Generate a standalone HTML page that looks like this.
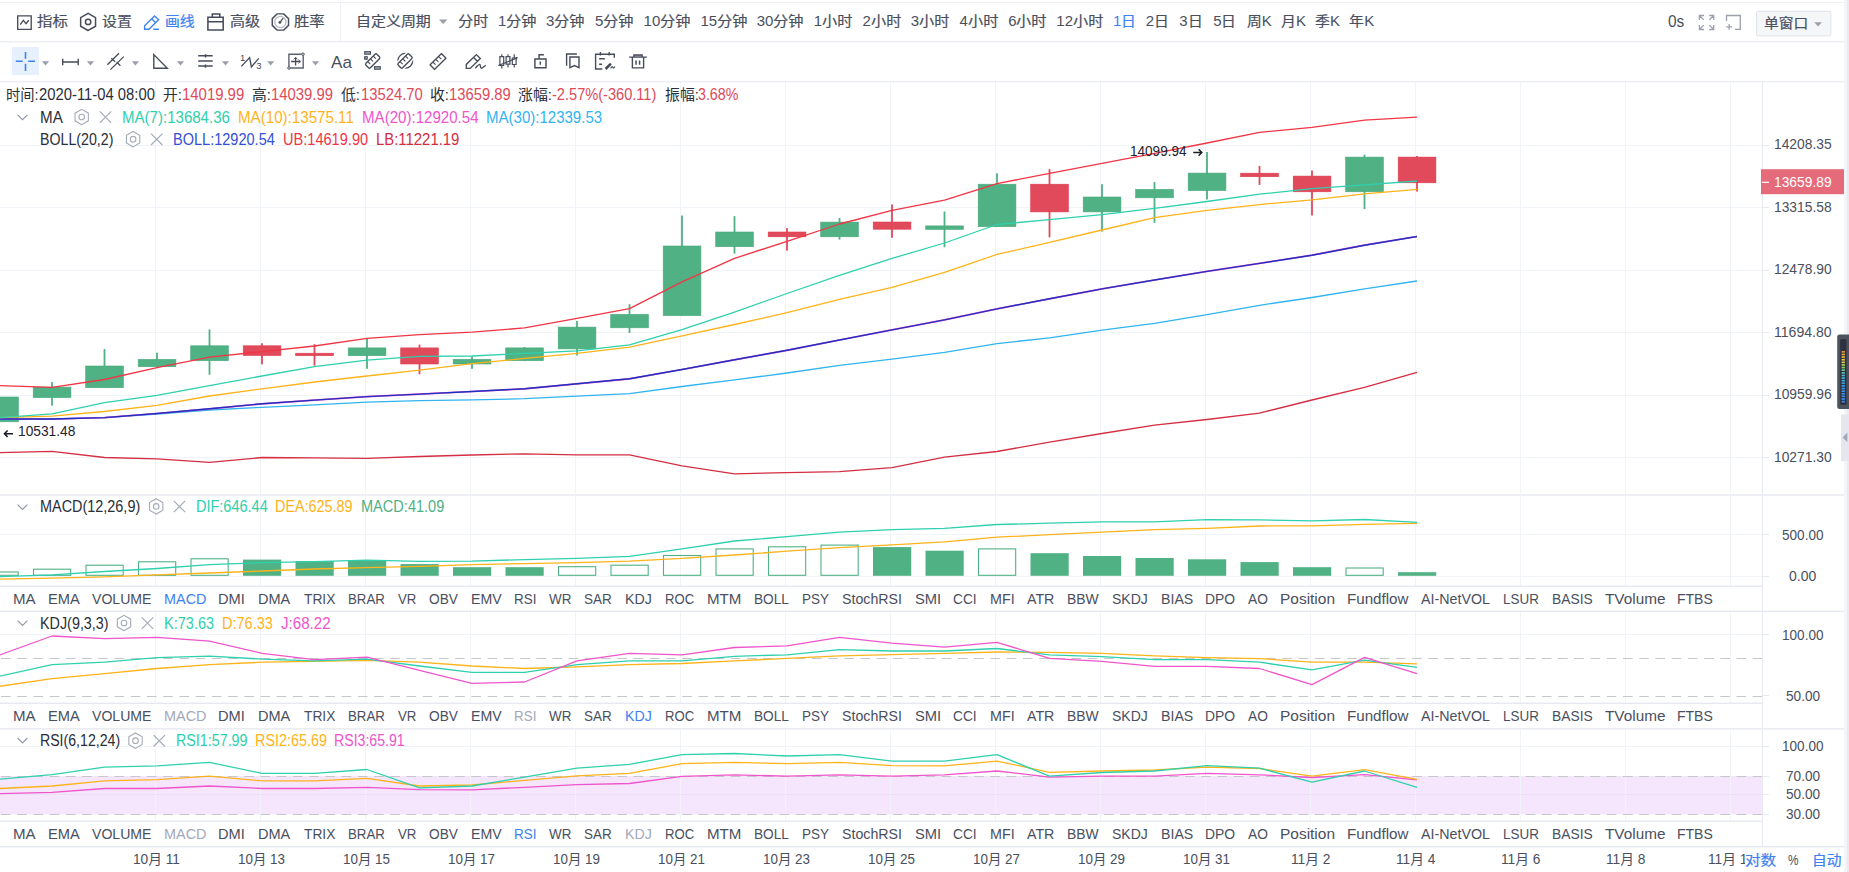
<!DOCTYPE html>
<html lang="zh-CN"><head><meta charset="utf-8"><title>K线图</title>
<style>
html,body{margin:0;padding:0;background:#fff;}
body{width:1849px;height:872px;position:relative;overflow:hidden;font-family:"Liberation Sans","Noto Sans CJK SC",sans-serif;}
.t{position:absolute;white-space:pre;transform-origin:0 50%;font-family:"Liberation Sans","Noto Sans CJK SC",sans-serif;}
</style></head><body>
<svg width="1849" height="872" viewBox="0 0 1849 872" style="position:absolute;left:0;top:0"><rect x="0" y="776" width="1762" height="38.5" fill="#f5e6fe"/>
<rect x="155" y="82" width="1" height="412" fill="#f0f3f8"/>
<rect x="260" y="82" width="1" height="412" fill="#f0f3f8"/>
<rect x="365" y="82" width="1" height="412" fill="#f0f3f8"/>
<rect x="470" y="82" width="1" height="412" fill="#f0f3f8"/>
<rect x="575" y="82" width="1" height="412" fill="#f0f3f8"/>
<rect x="680" y="82" width="1" height="412" fill="#f0f3f8"/>
<rect x="785" y="82" width="1" height="412" fill="#f0f3f8"/>
<rect x="890" y="82" width="1" height="412" fill="#f0f3f8"/>
<rect x="995" y="82" width="1" height="412" fill="#f0f3f8"/>
<rect x="1100" y="82" width="1" height="412" fill="#f0f3f8"/>
<rect x="1205" y="82" width="1" height="412" fill="#f0f3f8"/>
<rect x="1310" y="82" width="1" height="412" fill="#f0f3f8"/>
<rect x="1415" y="82" width="1" height="412" fill="#f0f3f8"/>
<rect x="1520" y="82" width="1" height="412" fill="#f0f3f8"/>
<rect x="1625" y="82" width="1" height="412" fill="#f0f3f8"/>
<rect x="1730" y="82" width="1" height="412" fill="#f0f3f8"/>
<rect x="155" y="496" width="1" height="90" fill="#f0f3f8"/>
<rect x="260" y="496" width="1" height="90" fill="#f0f3f8"/>
<rect x="365" y="496" width="1" height="90" fill="#f0f3f8"/>
<rect x="470" y="496" width="1" height="90" fill="#f0f3f8"/>
<rect x="575" y="496" width="1" height="90" fill="#f0f3f8"/>
<rect x="680" y="496" width="1" height="90" fill="#f0f3f8"/>
<rect x="785" y="496" width="1" height="90" fill="#f0f3f8"/>
<rect x="890" y="496" width="1" height="90" fill="#f0f3f8"/>
<rect x="995" y="496" width="1" height="90" fill="#f0f3f8"/>
<rect x="1100" y="496" width="1" height="90" fill="#f0f3f8"/>
<rect x="1205" y="496" width="1" height="90" fill="#f0f3f8"/>
<rect x="1310" y="496" width="1" height="90" fill="#f0f3f8"/>
<rect x="1415" y="496" width="1" height="90" fill="#f0f3f8"/>
<rect x="1520" y="496" width="1" height="90" fill="#f0f3f8"/>
<rect x="1625" y="496" width="1" height="90" fill="#f0f3f8"/>
<rect x="1730" y="496" width="1" height="90" fill="#f0f3f8"/>
<rect x="155" y="612" width="1" height="91" fill="#f0f3f8"/>
<rect x="260" y="612" width="1" height="91" fill="#f0f3f8"/>
<rect x="365" y="612" width="1" height="91" fill="#f0f3f8"/>
<rect x="470" y="612" width="1" height="91" fill="#f0f3f8"/>
<rect x="575" y="612" width="1" height="91" fill="#f0f3f8"/>
<rect x="680" y="612" width="1" height="91" fill="#f0f3f8"/>
<rect x="785" y="612" width="1" height="91" fill="#f0f3f8"/>
<rect x="890" y="612" width="1" height="91" fill="#f0f3f8"/>
<rect x="995" y="612" width="1" height="91" fill="#f0f3f8"/>
<rect x="1100" y="612" width="1" height="91" fill="#f0f3f8"/>
<rect x="1205" y="612" width="1" height="91" fill="#f0f3f8"/>
<rect x="1310" y="612" width="1" height="91" fill="#f0f3f8"/>
<rect x="1415" y="612" width="1" height="91" fill="#f0f3f8"/>
<rect x="1520" y="612" width="1" height="91" fill="#f0f3f8"/>
<rect x="1625" y="612" width="1" height="91" fill="#f0f3f8"/>
<rect x="1730" y="612" width="1" height="91" fill="#f0f3f8"/>
<rect x="155" y="729" width="1" height="92" fill="#f0f3f8"/>
<rect x="260" y="729" width="1" height="92" fill="#f0f3f8"/>
<rect x="365" y="729" width="1" height="92" fill="#f0f3f8"/>
<rect x="470" y="729" width="1" height="92" fill="#f0f3f8"/>
<rect x="575" y="729" width="1" height="92" fill="#f0f3f8"/>
<rect x="680" y="729" width="1" height="92" fill="#f0f3f8"/>
<rect x="785" y="729" width="1" height="92" fill="#f0f3f8"/>
<rect x="890" y="729" width="1" height="92" fill="#f0f3f8"/>
<rect x="995" y="729" width="1" height="92" fill="#f0f3f8"/>
<rect x="1100" y="729" width="1" height="92" fill="#f0f3f8"/>
<rect x="1205" y="729" width="1" height="92" fill="#f0f3f8"/>
<rect x="1310" y="729" width="1" height="92" fill="#f0f3f8"/>
<rect x="1415" y="729" width="1" height="92" fill="#f0f3f8"/>
<rect x="1520" y="729" width="1" height="92" fill="#f0f3f8"/>
<rect x="1625" y="729" width="1" height="92" fill="#f0f3f8"/>
<rect x="1730" y="729" width="1" height="92" fill="#f0f3f8"/>
<rect x="0" y="145" width="1762" height="1" fill="#f0f3f8"/>
<rect x="0" y="207" width="1762" height="1" fill="#f0f3f8"/>
<rect x="0" y="270" width="1762" height="1" fill="#f0f3f8"/>
<rect x="0" y="332" width="1762" height="1" fill="#f0f3f8"/>
<rect x="0" y="395" width="1762" height="1" fill="#f0f3f8"/>
<rect x="0" y="457" width="1762" height="1" fill="#f0f3f8"/>
<rect x="0" y="534" width="1762" height="1" fill="#f0f3f8"/>
<rect x="0" y="576" width="1762" height="1" fill="#f0f3f8"/>
<rect x="0" y="634" width="1762" height="1" fill="#f0f3f8"/>
<rect x="0" y="746" width="1762" height="1" fill="#f0f3f8"/>
<rect x="0" y="794" width="1762" height="1" fill="#ebe0f6"/>
<rect x="1762" y="145" width="7" height="1" fill="#e6e9ef"/>
<rect x="1762" y="207" width="7" height="1" fill="#e6e9ef"/>
<rect x="1762" y="270" width="7" height="1" fill="#e6e9ef"/>
<rect x="1762" y="332" width="7" height="1" fill="#e6e9ef"/>
<rect x="1762" y="395" width="7" height="1" fill="#e6e9ef"/>
<rect x="1762" y="457" width="7" height="1" fill="#e6e9ef"/>
<rect x="1762" y="534" width="7" height="1" fill="#e6e9ef"/>
<rect x="1762" y="576" width="7" height="1" fill="#e6e9ef"/>
<rect x="1762" y="634" width="7" height="1" fill="#e6e9ef"/>
<rect x="1762" y="695" width="7" height="1" fill="#e6e9ef"/>
<rect x="1762" y="746" width="7" height="1" fill="#e6e9ef"/>
<rect x="1762" y="776" width="7" height="1" fill="#e6e9ef"/>
<rect x="1762" y="794" width="7" height="1" fill="#e6e9ef"/>
<rect x="1762" y="814" width="7" height="1" fill="#e6e9ef"/>
<rect x="0" y="2" width="1849" height="1" fill="#f0f1f5"/>
<rect x="0" y="41" width="1844" height="1.4" fill="#eceef3"/>
<rect x="0" y="81" width="1844" height="1.4" fill="#eceef3"/>
<rect x="0" y="494.3" width="1844" height="1.4" fill="#e6e9ef"/>
<rect x="0" y="585.6" width="1762" height="1.4" fill="#e6e9ef"/>
<rect x="0" y="610.6" width="1844" height="1.4" fill="#e6e9ef"/>
<rect x="0" y="702.6" width="1762" height="1.4" fill="#e6e9ef"/>
<rect x="0" y="728.2" width="1844" height="1.4" fill="#e6e9ef"/>
<rect x="0" y="820.6" width="1762" height="1.4" fill="#e6e9ef"/>
<rect x="0" y="846" width="1844" height="1.4" fill="#e6e9ef"/>
<rect x="1762" y="82" width="1" height="764" fill="#e6e9ef"/>
<rect x="340" y="3" width="1" height="38" fill="#eceef3"/>
<rect x="1844" y="0" width="2.4" height="872" fill="#f4f5f8"/><rect x="1846.4" y="0" width="2.6" height="872" fill="#e9ebf0"/>
<line x1="1" y1="658.5" x2="1762" y2="658.5" stroke="#c6c7ca" stroke-width="1.1" stroke-dasharray="9.6 6.62"/>
<line x1="1" y1="696.5" x2="1762" y2="696.5" stroke="#c6c7ca" stroke-width="1.1" stroke-dasharray="9.6 6.62"/>
<line x1="1" y1="776.5" x2="1762" y2="776.5" stroke="#c6c7ca" stroke-width="1.1" stroke-dasharray="9.6 6.62"/>
<line x1="1" y1="814.5" x2="1762" y2="814.5" stroke="#c6c7ca" stroke-width="1.1" stroke-dasharray="9.6 6.62"/>
<rect x="-19.3" y="397.0" width="37.7" height="24.8" fill="#50b184" stroke="#48a97b" stroke-width="0.6"/>
<rect x="51.1" y="382.1" width="1.8" height="23.6" fill="#50b184"/>
<rect x="33.2" y="387.1" width="37.7" height="10.5" fill="#50b184" stroke="#48a97b" stroke-width="0.6"/>
<rect x="103.6" y="349.1" width="1.8" height="38.6" fill="#50b184"/>
<rect x="85.7" y="366.0" width="37.7" height="21.7" fill="#50b184" stroke="#48a97b" stroke-width="0.6"/>
<rect x="156.1" y="352.6" width="1.8" height="14.1" fill="#50b184"/>
<rect x="138.2" y="359.4" width="37.7" height="7.3" fill="#50b184" stroke="#48a97b" stroke-width="0.6"/>
<rect x="208.6" y="329.5" width="1.8" height="45.2" fill="#50b184"/>
<rect x="190.7" y="345.8" width="37.7" height="14.9" fill="#50b184" stroke="#48a97b" stroke-width="0.6"/>
<rect x="261.1" y="343.3" width="1.8" height="21.1" fill="#e04a5a"/>
<rect x="243.2" y="345.8" width="37.7" height="9.7" fill="#e04a5a" stroke="#dc3d4e" stroke-width="0.6"/>
<rect x="313.6" y="344.2" width="1.8" height="21.5" fill="#e04a5a"/>
<rect x="295.7" y="353.2" width="37.7" height="2.5" fill="#e04a5a" stroke="#dc3d4e" stroke-width="0.6"/>
<rect x="366.1" y="338.8" width="1.8" height="30.0" fill="#50b184"/>
<rect x="348.2" y="347.9" width="37.7" height="7.8" fill="#50b184" stroke="#48a97b" stroke-width="0.6"/>
<rect x="418.6" y="344.6" width="1.8" height="29.7" fill="#e04a5a"/>
<rect x="400.7" y="347.9" width="37.7" height="16.1" fill="#e04a5a" stroke="#dc3d4e" stroke-width="0.6"/>
<rect x="471.1" y="356.4" width="1.8" height="12.4" fill="#50b184"/>
<rect x="453.2" y="359.3" width="37.7" height="4.7" fill="#50b184" stroke="#48a97b" stroke-width="0.6"/>
<rect x="523.6" y="347.1" width="1.8" height="14.0" fill="#50b184"/>
<rect x="505.7" y="347.9" width="37.7" height="12.8" fill="#50b184" stroke="#48a97b" stroke-width="0.6"/>
<rect x="576.1" y="320.9" width="1.8" height="34.6" fill="#50b184"/>
<rect x="558.2" y="327.1" width="37.7" height="21.8" fill="#50b184" stroke="#48a97b" stroke-width="0.6"/>
<rect x="628.6" y="304.2" width="1.8" height="28.8" fill="#50b184"/>
<rect x="610.7" y="314.4" width="37.7" height="13.4" fill="#50b184" stroke="#48a97b" stroke-width="0.6"/>
<rect x="681.1" y="215.5" width="1.8" height="100.1" fill="#50b184"/>
<rect x="663.2" y="246.0" width="37.7" height="69.6" fill="#50b184" stroke="#48a97b" stroke-width="0.6"/>
<rect x="733.6" y="216.1" width="1.8" height="37.6" fill="#50b184"/>
<rect x="715.7" y="232.0" width="37.7" height="14.7" fill="#50b184" stroke="#48a97b" stroke-width="0.6"/>
<rect x="786.1" y="228.1" width="1.8" height="22.5" fill="#e04a5a"/>
<rect x="768.2" y="232.0" width="37.7" height="4.8" fill="#e04a5a" stroke="#dc3d4e" stroke-width="0.6"/>
<rect x="838.6" y="218.0" width="1.8" height="21.6" fill="#50b184"/>
<rect x="820.7" y="222.1" width="37.7" height="14.7" fill="#50b184" stroke="#48a97b" stroke-width="0.6"/>
<rect x="891.1" y="204.4" width="1.8" height="33.4" fill="#e04a5a"/>
<rect x="873.2" y="222.0" width="37.7" height="7.2" fill="#e04a5a" stroke="#dc3d4e" stroke-width="0.6"/>
<rect x="943.6" y="211.5" width="1.8" height="35.7" fill="#50b184"/>
<rect x="925.7" y="225.9" width="37.7" height="3.5" fill="#50b184" stroke="#48a97b" stroke-width="0.6"/>
<rect x="996.1" y="173.3" width="1.8" height="53.4" fill="#50b184"/>
<rect x="978.2" y="184.2" width="37.7" height="42.5" fill="#50b184" stroke="#48a97b" stroke-width="0.6"/>
<rect x="1048.6" y="169.1" width="1.8" height="68.2" fill="#e04a5a"/>
<rect x="1030.7" y="184.2" width="37.7" height="27.7" fill="#e04a5a" stroke="#dc3d4e" stroke-width="0.6"/>
<rect x="1101.1" y="184.2" width="1.8" height="47.3" fill="#50b184"/>
<rect x="1083.2" y="197.0" width="37.7" height="14.9" fill="#50b184" stroke="#48a97b" stroke-width="0.6"/>
<rect x="1153.6" y="182.1" width="1.8" height="40.7" fill="#50b184"/>
<rect x="1135.7" y="189.4" width="37.7" height="8.4" fill="#50b184" stroke="#48a97b" stroke-width="0.6"/>
<rect x="1206.1" y="152.0" width="1.8" height="47.5" fill="#50b184"/>
<rect x="1188.2" y="173.1" width="37.7" height="17.5" fill="#50b184" stroke="#48a97b" stroke-width="0.6"/>
<rect x="1258.6" y="166.0" width="1.8" height="18.9" fill="#e04a5a"/>
<rect x="1240.7" y="173.2" width="37.7" height="3.5" fill="#e04a5a" stroke="#dc3d4e" stroke-width="0.6"/>
<rect x="1311.1" y="170.5" width="1.8" height="45.0" fill="#e04a5a"/>
<rect x="1293.2" y="176.1" width="37.7" height="15.7" fill="#e04a5a" stroke="#dc3d4e" stroke-width="0.6"/>
<rect x="1363.6" y="154.6" width="1.8" height="54.5" fill="#50b184"/>
<rect x="1345.7" y="157.1" width="37.7" height="34.7" fill="#50b184" stroke="#48a97b" stroke-width="0.6"/>
<rect x="1416.1" y="156.0" width="1.8" height="35.5" fill="#e04a5a"/>
<rect x="1398.2" y="157.1" width="37.7" height="25.7" fill="#e04a5a" stroke="#dc3d4e" stroke-width="0.6"/>
<rect x="-19.0" y="572.0" width="37.2" height="3.3" fill="none" stroke="#50b184" stroke-width="1.1"/>
<rect x="33.5" y="569.2" width="37.2" height="6.1" fill="none" stroke="#50b184" stroke-width="1.1"/>
<rect x="86.0" y="565.2" width="37.2" height="10.1" fill="none" stroke="#50b184" stroke-width="1.1"/>
<rect x="138.5" y="561.8" width="37.2" height="13.5" fill="none" stroke="#50b184" stroke-width="1.1"/>
<rect x="191.0" y="558.8" width="37.2" height="16.5" fill="none" stroke="#50b184" stroke-width="1.1"/>
<rect x="243.0" y="559.6" width="38.2" height="16.2" fill="#50b184"/>
<rect x="295.5" y="561.1" width="38.2" height="14.7" fill="#50b184"/>
<rect x="348.0" y="560.1" width="38.2" height="15.7" fill="#50b184"/>
<rect x="400.5" y="564.1" width="38.2" height="11.7" fill="#50b184"/>
<rect x="453.0" y="567.2" width="38.2" height="8.6" fill="#50b184"/>
<rect x="505.5" y="567.2" width="38.2" height="8.6" fill="#50b184"/>
<rect x="558.5" y="566.7" width="37.2" height="8.6" fill="none" stroke="#50b184" stroke-width="1.1"/>
<rect x="611.0" y="565.2" width="37.2" height="10.1" fill="none" stroke="#50b184" stroke-width="1.1"/>
<rect x="663.5" y="555.5" width="37.2" height="19.8" fill="none" stroke="#50b184" stroke-width="1.1"/>
<rect x="716.0" y="548.9" width="37.2" height="26.4" fill="none" stroke="#50b184" stroke-width="1.1"/>
<rect x="768.5" y="546.8" width="37.2" height="28.5" fill="none" stroke="#50b184" stroke-width="1.1"/>
<rect x="821.0" y="545.1" width="37.2" height="30.2" fill="none" stroke="#50b184" stroke-width="1.1"/>
<rect x="873.0" y="547.1" width="38.2" height="28.7" fill="#50b184"/>
<rect x="925.5" y="550.7" width="38.2" height="25.1" fill="#50b184"/>
<rect x="978.5" y="548.9" width="37.2" height="26.4" fill="none" stroke="#50b184" stroke-width="1.1"/>
<rect x="1030.5" y="553.2" width="38.2" height="22.6" fill="#50b184"/>
<rect x="1083.0" y="556.0" width="38.2" height="19.8" fill="#50b184"/>
<rect x="1135.5" y="558.0" width="38.2" height="17.8" fill="#50b184"/>
<rect x="1188.0" y="559.3" width="38.2" height="16.5" fill="#50b184"/>
<rect x="1240.5" y="562.1" width="38.2" height="13.7" fill="#50b184"/>
<rect x="1293.0" y="567.2" width="38.2" height="8.6" fill="#50b184"/>
<rect x="1346.0" y="568.0" width="37.2" height="7.3" fill="none" stroke="#50b184" stroke-width="1.1"/>
<rect x="1398.0" y="572.2" width="38.2" height="3.6" fill="#50b184"/>
<polyline points="-0.5,452.7 52.0,451.3 104.5,457.5 157.0,458.9 209.5,462.4 262.0,457.5 314.5,457.9 367.0,458.3 419.5,456.5 472.0,455.0 524.5,453.8 577.0,454.8 629.5,454.9 682.0,465.9 734.5,473.8 787.0,472.7 839.5,471.7 892.0,467.6 944.5,457.2 997.0,451.5 1049.5,442.2 1102.0,433.5 1154.5,425.2 1207.0,419.5 1259.5,413.1 1312.0,400.0 1364.5,387.3 1417.0,372.4" fill="none" stroke="#d42e42" stroke-width="1.3" stroke-linejoin="round"/>
<polyline points="-0.5,419.7 52.0,419.0 104.5,417.6 157.0,414.0 209.5,410.0 262.0,407.3 314.5,404.9 367.0,402.2 419.5,400.7 472.0,399.9 524.5,398.7 577.0,396.2 629.5,393.6 682.0,386.5 734.5,379.9 787.0,373.0 839.5,365.4 892.0,359.2 944.5,352.3 997.0,343.6 1049.5,337.8 1102.0,330.2 1154.5,323.4 1207.0,314.7 1259.5,305.3 1312.0,297.5 1364.5,288.8 1417.0,281.0" fill="none" stroke="#32b4f0" stroke-width="1.3" stroke-linejoin="round"/>
<polyline points="-0.5,419.0 52.0,419.0 104.5,417.6 157.0,413.5 209.5,408.8 262.0,403.8 314.5,400.1 367.0,396.6 419.5,394.1 472.0,391.5 524.5,388.8 577.0,383.8 629.5,378.8 682.0,369.5 734.5,359.8 787.0,350.3 839.5,340.0 892.0,329.9 944.5,319.9 997.0,308.9 1049.5,298.8 1102.0,288.9 1154.5,280.0 1207.0,271.4 1259.5,263.4 1312.0,255.2 1364.5,245.2 1417.0,236.5" fill="none" stroke="#f055cc" stroke-width="1.7" stroke-linejoin="round"/>
<polyline points="-0.5,419.0 52.0,419.0 104.5,417.6 157.0,413.5 209.5,408.8 262.0,403.8 314.5,400.1 367.0,396.6 419.5,394.1 472.0,391.5 524.5,388.8 577.0,383.8 629.5,378.8 682.0,369.5 734.5,359.8 787.0,350.3 839.5,340.0 892.0,329.9 944.5,319.9 997.0,308.9 1049.5,298.8 1102.0,288.9 1154.5,280.0 1207.0,271.4 1259.5,263.4 1312.0,255.2 1364.5,245.2 1417.0,236.5" fill="none" stroke="#1f30c0" stroke-width="1.45" stroke-linejoin="round"/>
<polyline points="-0.5,417.6 52.0,416.2 104.5,411.5 157.0,405.3 209.5,396.0 262.0,388.8 314.5,382.0 367.0,376.0 419.5,370.2 472.0,363.6 524.5,358.4 577.0,353.3 629.5,347.2 682.0,335.8 734.5,324.5 787.0,312.7 839.5,299.3 892.0,287.3 944.5,272.3 997.0,254.4 1049.5,242.4 1102.0,230.0 1154.5,217.6 1207.0,210.4 1259.5,204.6 1312.0,199.8 1364.5,193.8 1417.0,189.3" fill="none" stroke="#ffb31a" stroke-width="1.3" stroke-linejoin="round"/>
<polyline points="-0.5,417.6 52.0,413.9 104.5,402.6 157.0,395.4 209.5,385.7 262.0,376.0 314.5,366.7 367.0,360.1 419.5,356.4 472.0,356.0 524.5,353.3 577.0,350.8 629.5,344.8 682.0,329.6 734.5,312.1 787.0,293.5 839.5,275.4 892.0,258.4 944.5,243.0 997.0,224.5 1049.5,219.7 1102.0,214.6 1154.5,208.4 1207.0,201.5 1259.5,194.2 1312.0,188.7 1364.5,184.9 1417.0,181.0" fill="none" stroke="#2fd0ae" stroke-width="1.3" stroke-linejoin="round"/>
<polyline points="-0.5,385.7 52.0,387.3 104.5,379.5 157.0,367.7 209.5,357.2 262.0,351.6 314.5,346.0 367.0,338.4 419.5,334.7 472.0,332.2 524.5,327.9 577.0,318.4 629.5,308.7 682.0,281.8 734.5,258.4 787.0,241.3 839.5,224.0 892.0,210.3 944.5,200.1 997.0,183.6 1049.5,173.3 1102.0,163.4 1154.5,153.3 1207.0,143.0 1259.5,132.3 1312.0,127.4 1364.5,120.1 1417.0,117.2" fill="none" stroke="#f23545" stroke-width="1.3" stroke-linejoin="round"/>
<polyline points="-0.5,579.1 52.0,578.1 104.5,576.9 157.0,574.8 209.5,573.0 262.0,571.0 314.5,569.0 367.0,567.7 419.5,566.4 472.0,564.7 524.5,563.6 577.0,562.6 629.5,561.1 682.0,558.3 734.5,555.0 787.0,551.2 839.5,547.6 892.0,544.8 944.5,541.8 997.0,537.2 1049.5,534.7 1102.0,532.1 1154.5,529.6 1207.0,528.3 1259.5,526.0 1312.0,525.8 1364.5,524.3 1417.0,523.3" fill="none" stroke="#ffb31a" stroke-width="1.3" stroke-linejoin="round"/>
<polyline points="-0.5,576.6 52.0,574.8 104.5,571.5 157.0,568.5 209.5,564.7 262.0,562.6 314.5,561.6 367.0,560.1 419.5,561.3 472.0,561.1 524.5,559.6 577.0,558.3 629.5,556.3 682.0,548.9 734.5,541.0 787.0,536.7 839.5,532.1 892.0,529.6 944.5,528.3 997.0,524.5 1049.5,523.2 1102.0,521.9 1154.5,521.9 1207.0,519.7 1259.5,519.9 1312.0,520.9 1364.5,519.5 1417.0,522.4" fill="none" stroke="#2fd0ae" stroke-width="1.3" stroke-linejoin="round"/>
<polyline points="-0.5,686.3 52.0,678.7 104.5,673.6 157.0,668.5 209.5,664.7 262.0,662.2 314.5,661.4 367.0,660.4 419.5,662.2 472.0,666.0 524.5,668.5 577.0,666.8 629.5,664.7 682.0,663.5 734.5,660.9 787.0,658.4 839.5,655.8 892.0,654.6 944.5,653.3 997.0,652.0 1049.5,652.3 1102.0,653.3 1154.5,655.8 1207.0,657.6 1259.5,658.6 1312.0,662.1 1364.5,662.1 1417.0,663.8" fill="none" stroke="#ffb31a" stroke-width="1.3" stroke-linejoin="round"/>
<polyline points="-0.5,676.2 52.0,664.7 104.5,662.2 157.0,657.6 209.5,656.1 262.0,659.1 314.5,660.9 367.0,659.1 419.5,666.0 472.0,672.4 524.5,672.4 577.0,664.7 629.5,660.9 682.0,660.9 734.5,656.3 787.0,654.8 839.5,649.7 892.0,651.0 944.5,651.0 997.0,648.5 1049.5,654.8 1102.0,656.6 1154.5,659.7 1207.0,659.7 1259.5,662.2 1312.0,669.8 1364.5,660.1 1417.0,667.4" fill="none" stroke="#2fd0ae" stroke-width="1.3" stroke-linejoin="round"/>
<polyline points="-0.5,655.1 52.0,636.0 104.5,638.6 157.0,637.3 209.5,641.1 262.0,653.3 314.5,659.7 367.0,657.1 419.5,670.3 472.0,683.3 524.5,682.0 577.0,660.9 629.5,653.3 682.0,654.8 734.5,647.5 787.0,645.9 839.5,637.3 892.0,643.1 944.5,647.2 997.0,642.4 1049.5,658.4 1102.0,661.4 1154.5,666.3 1207.0,666.3 1259.5,668.5 1312.0,684.6 1364.5,657.3 1417.0,673.6" fill="none" stroke="#f055cc" stroke-width="1.3" stroke-linejoin="round"/>
<polyline points="-0.5,793.6 52.0,792.4 104.5,788.5 157.0,788.5 209.5,786.0 262.0,788.5 314.5,788.5 367.0,787.3 419.5,789.6 472.0,789.8 524.5,787.3 577.0,784.7 629.5,783.5 682.0,776.3 734.5,774.8 787.0,776.1 839.5,774.8 892.0,776.1 944.5,774.8 997.0,771.0 1049.5,777.1 1102.0,776.1 1154.5,776.1 1207.0,773.3 1259.5,774.8 1312.0,777.5 1364.5,774.6 1417.0,779.9" fill="none" stroke="#f055cc" stroke-width="1.3" stroke-linejoin="round"/>
<polyline points="-0.5,788.5 52.0,786.0 104.5,780.9 157.0,779.7 209.5,776.1 262.0,780.9 314.5,780.9 367.0,778.4 419.5,786.0 472.0,785.0 524.5,780.4 577.0,775.8 629.5,773.3 682.0,763.6 734.5,762.4 787.0,763.6 839.5,762.4 892.0,765.7 944.5,765.9 997.0,761.1 1049.5,772.3 1102.0,771.0 1154.5,770.0 1207.0,767.2 1259.5,768.5 1312.0,776.2 1364.5,769.6 1417.0,779.3" fill="none" stroke="#ffb31a" stroke-width="1.3" stroke-linejoin="round"/>
<polyline points="-0.5,779.1 52.0,774.6 104.5,767.2 157.0,765.9 209.5,762.4 262.0,773.3 314.5,773.3 367.0,769.5 419.5,787.8 472.0,786.0 524.5,777.1 577.0,768.2 629.5,764.4 682.0,754.7 734.5,753.5 787.0,756.0 839.5,754.7 892.0,761.1 944.5,761.1 997.0,754.7 1049.5,776.1 1102.0,772.5 1154.5,771.0 1207.0,765.7 1259.5,768.2 1312.0,782.1 1364.5,771.0 1417.0,787.4" fill="none" stroke="#2fd0ae" stroke-width="1.3" stroke-linejoin="round"/>
<rect x="1761" y="169.2" width="83" height="25" fill="#e66b7a"/>
<rect x="1762" y="181.7" width="7" height="1.2" fill="#fff"/>
<path d="M4.4 433.7H13M7.6 430.5L4.4 433.7L7.6 436.9" fill="none" stroke="#1a1d27" stroke-width="1.5"/>
<path d="M1193.2 152.5H1201.8M1198.6 149.3L1201.8 152.5L1198.6 155.7" fill="none" stroke="#1a1d27" stroke-width="1.5"/>
<rect x="1837.2" y="334.5" width="14" height="74.5" rx="2.5" fill="#4b535f"/>
<rect x="1840.2" y="339.2" width="6.2" height="65.5" rx="1" fill="#2c313c"/>
<rect x="1841.6" y="351.0" width="3.3" height="1.7" fill="#e8923a"/>
<rect x="1841.6" y="353.6" width="3.3" height="1.7" fill="#efa63a"/>
<rect x="1841.6" y="356.2" width="3.3" height="1.7" fill="#f1b93a"/>
<rect x="1841.6" y="358.9" width="3.3" height="1.7" fill="#eac83e"/>
<rect x="1841.6" y="361.5" width="3.3" height="1.7" fill="#d9cf48"/>
<rect x="1841.6" y="364.1" width="3.3" height="1.7" fill="#b9cf58"/>
<rect x="1841.6" y="366.7" width="3.3" height="1.7" fill="#8fca6e"/>
<rect x="1841.6" y="369.3" width="3.3" height="1.7" fill="#6bc58c"/>
<rect x="1841.6" y="372.0" width="3.3" height="1.7" fill="#55c0a8"/>
<rect x="1841.6" y="374.6" width="3.3" height="1.7" fill="#48b9c0"/>
<rect x="1841.6" y="377.2" width="3.3" height="1.7" fill="#40b0d0"/>
<rect x="1841.6" y="379.8" width="3.3" height="1.7" fill="#3da8dc"/>
<rect x="1841.6" y="382.4" width="3.3" height="1.7" fill="#3aa0e2"/>
<rect x="1841.6" y="385.1" width="3.3" height="1.7" fill="#3a9ae6"/>
<rect x="1841.6" y="387.7" width="3.3" height="1.7" fill="#3a96e8"/>
<rect x="1841.6" y="390.3" width="3.3" height="1.7" fill="#3a94ea"/>
<rect x="1841.6" y="392.9" width="3.3" height="1.7" fill="#3a92ec"/>
<rect x="1841.6" y="395.5" width="3.3" height="1.7" fill="#3a90ee"/>
<rect x="1841.6" y="398.2" width="3.3" height="1.7" fill="#3a8ef0"/>
<rect x="1841.6" y="400.8" width="3.3" height="1.7" fill="#3a8cf0"/>
<rect x="1841" y="414.5" width="8" height="46.5" fill="#e4e7ee"/>
<path d="M1847.4 432.6V442.3L1842.6 437.4Z" fill="#a3a8b6"/>
<path d="M17.7 15.8H31.2V29.4H17.7Z M20.2 24.6L23.4 20.4L26 23.6L28.8 20.2" fill="none" stroke="#474c5a" stroke-width="1.35" stroke-linejoin="miter" stroke-linecap="butt" />
<path d="M88.10 30.50L80.65 26.20L80.65 17.60L88.10 13.30L95.55 17.60L95.55 26.20Z" fill="none" stroke="#474c5a" stroke-width="1.5" stroke-linejoin="miter" stroke-linecap="butt" />
<circle cx="88.1" cy="21.9" r="2.7" fill="none" stroke="#474c5a" stroke-width="1.5"/>
<path d="M144.6 29.2V25.7L154.6 15.9L158.6 19.8L149 29.2Z M151.7 18.8L155.6 22.7 M153.3 29.2H159" fill="none" stroke="#3d82f0" stroke-width="1.35" stroke-linejoin="miter" stroke-linecap="butt" />
<path d="M207.9 17.2H223.2V30H207.9Z M212.3 17.2V13.9H219.8V17.2 M207.9 21.8H223.2" fill="none" stroke="#474c5a" stroke-width="1.55" stroke-linejoin="miter" stroke-linecap="butt" />
<path d="M288.53 25.37L283.77 30.13L277.03 30.13L272.27 25.37L272.27 18.63L277.03 13.87L283.77 13.87L288.53 18.63Z" fill="none" stroke="#474c5a" stroke-width="1.45" stroke-linejoin="miter" stroke-linecap="butt" />
<circle cx="280.4" cy="22" r="5.6" fill="none" stroke="#b9bcc6" stroke-width="1.3"/>
<path d="M279.8 22.6L283.2 18.2" fill="none" stroke="#474c5a" stroke-width="1.3" stroke-linejoin="miter" stroke-linecap="butt" />
<circle cx="279.9" cy="22.4" r="1.4" fill="#474c5a"/>
<path d="M439.0 19.6H447.4L443.2 24.0Z" fill="#9a9ea9"/>
<path d="M1699.4 20V15.5H1704 M1699.6 15.7L1703.8 19.9 M1709.2 15.5H1713.7V20 M1713.5 15.7L1709.3 19.9 M1699.4 25V29.5H1704 M1699.6 29.3L1703.8 25.1 M1713.7 25V29.5H1709.2 M1713.5 29.3L1709.3 25.1" fill="none" stroke="#9ba0ac" stroke-width="1.3" stroke-linejoin="miter" stroke-linecap="butt" />
<path d="M1726.5 21V15.5H1740.3V29.4H1735 M1726.3 26.9H1732 M1729.15 24V29.8" fill="none" stroke="#9ba0ac" stroke-width="1.3" stroke-linejoin="miter" stroke-linecap="butt" />
<rect x="1756.5" y="11.3" width="74.4" height="24.6" rx="1.5" fill="#f5f6f8" stroke="#dfe2e8" stroke-width="1"/>
<path d="M1814.3 22.2H1821.8999999999999L1818.1 26.6Z" fill="#9a9ea9"/>
<rect x="12" y="47" width="27" height="28" fill="#e6f1fd"/>
<path d="M15.8 61.3H22.8M28.2 61.3H35M25.5 51.9V58.8M25.5 63.8V71" fill="none" stroke="#3d82f0" stroke-width="1.6" stroke-linejoin="miter" stroke-linecap="butt" />
<path d="M41.9 61.2H49.1L45.5 65.4Z" fill="#9a9ea9"/>
<path d="M86.9 61.2H94.1L90.5 65.4Z" fill="#9a9ea9"/>
<path d="M131.8 61.2H139.0L135.4 65.4Z" fill="#9a9ea9"/>
<path d="M176.9 61.2H184.1L180.5 65.4Z" fill="#9a9ea9"/>
<path d="M221.9 61.2H229.1L225.5 65.4Z" fill="#9a9ea9"/>
<path d="M267.09999999999997 61.2H274.3L270.7 65.4Z" fill="#9a9ea9"/>
<path d="M311.9 61.2H319.1L315.5 65.4Z" fill="#9a9ea9"/>
<path d="M62.7 58.7V65.2M78.2 58.7V65.2M62.7 62H78.2" fill="none" stroke="#474c5a" stroke-width="1.4" stroke-linejoin="miter" stroke-linecap="butt" />
<path d="M107.4 64.8L119 53.2M110.4 69.6L123.8 56.6M111.3 58.2L115.2 61.8M116.6 62L120.4 65.8" fill="none" stroke="#474c5a" stroke-width="1.3" stroke-linejoin="miter" stroke-linecap="butt" />
<path d="M153.8 54.6V68.2H167.3Z" fill="none" stroke="#474c5a" stroke-width="1.4" stroke-linejoin="miter" stroke-linecap="butt" />
<path d="M198.2 55.8H212.7M198.2 61H212.7M198.2 66.1H212.7M205.5 54.2V57.4M205.5 64.5V67.7" fill="none" stroke="#474c5a" stroke-width="1.5" stroke-linejoin="miter" stroke-linecap="butt" />
<path d="M241.4 66.4L249.6 57.6L251.4 67L258.7 58.4" fill="none" stroke="#474c5a" stroke-width="1.35" stroke-linejoin="miter" stroke-linecap="butt" />
<path d="M288.9 54.2H303.2V68H288.9Z" fill="none" stroke="#5d6270" stroke-width="1.4" stroke-linejoin="miter" stroke-linecap="butt" />
<circle cx="303" cy="54.2" r="1.3" fill="#d3d5db" stroke="#5d6270" stroke-width="1"/><circle cx="289" cy="68" r="1.3" fill="#d3d5db" stroke="#5d6270" stroke-width="1"/>
<path d="M291.1 61.5H300.4M295.6 57.4V65.6" fill="none" stroke="#474c5a" stroke-width="1.3" stroke-linejoin="miter" stroke-linecap="butt" />
<path d="M298.4 59.7L300.3 61.5L298.4 63.3M293.8 59.3L295.6 57.5L297.4 59.3" fill="none" stroke="#474c5a" stroke-width="1.0" stroke-linejoin="miter" stroke-linecap="butt" />
<g transform="translate(372.7 61) rotate(-45)"><rect x="-7.7" y="-3.1" width="15.4" height="6.2" rx="1.3" fill="#fff" stroke="#474c5a" stroke-width="1.35"/><path d="M-3.9 -3.1v3.6" stroke="#474c5a" stroke-width="1.1"/><path d="M0.0 -3.1v3.6" stroke="#474c5a" stroke-width="1.1"/><path d="M3.9 -3.1v3.6" stroke="#474c5a" stroke-width="1.1"/></g>
<rect x="364.7" y="51.7" width="5.8" height="2.5" fill="#a9adb8" stroke="#474c5a" stroke-width="1.1"/><rect x="364.7" y="56.7" width="2.5" height="2.5" fill="#a9adb8" stroke="#474c5a" stroke-width="1.1"/><rect x="374.5" y="66.7" width="5.8" height="2.5" fill="#a9adb8" stroke="#474c5a" stroke-width="1.1"/>
<circle cx="405.3" cy="60.8" r="7.4" fill="none" stroke="#474c5a" stroke-width="1.25"/>
<g transform="translate(405 61) rotate(-45)"><rect x="-7.7" y="-3.1" width="15.4" height="6.2" rx="1.3" fill="#fff" stroke="#fff" stroke-width="4.2"/></g>
<g transform="translate(405 61) rotate(-45)"><rect x="-7.7" y="-3.1" width="15.4" height="6.2" rx="1.3" fill="#fff" stroke="#474c5a" stroke-width="1.35"/><path d="M-3.9 -3.1v3.6" stroke="#474c5a" stroke-width="1.1"/><path d="M0.0 -3.1v3.6" stroke="#474c5a" stroke-width="1.1"/><path d="M3.9 -3.1v3.6" stroke="#474c5a" stroke-width="1.1"/></g>
<g transform="translate(438 61.5) rotate(-45)"><rect x="-8.05" y="-3.25" width="16.1" height="6.5" rx="0.2" fill="#fff" stroke="#474c5a" stroke-width="1.35"/><path d="M-4.0 -3.25v3.8" stroke="#474c5a" stroke-width="1.1"/><path d="M0.0 -3.25v3.8" stroke="#474c5a" stroke-width="1.1"/><path d="M4.0 -3.25v3.8" stroke="#474c5a" stroke-width="1.1"/></g>
<path d="M466.3 68.4V64.4L476.4 54.6L480.3 58.4L470.2 68.4Z M473.6 57.6L477.4 61.3 M475.4 68.2C477.2 66.2 478.4 64.3 479.6 64.3C481 64.3 479.8 68.2 481.4 68.2C482.6 68.2 484 66.6 485.7 65.2" fill="none" stroke="#474c5a" stroke-width="1.35" stroke-linejoin="miter" stroke-linecap="butt" />
<path d="M501.8 54.2V56.6M501.8 65.5V68.6M508 54.2V56.6M508 64.2V67.6M514.2 54.2V58M514.2 64.5V67.6" fill="none" stroke="#474c5a" stroke-width="1.2" stroke-linejoin="miter" stroke-linecap="butt" />
<path d="M499.9 56.6H503.7V65.5H499.9ZM506.1 56.6H509.9V64.2H506.1ZM512.3 58H516.1V64.5H512.3Z" fill="none" stroke="#474c5a" stroke-width="1.2" stroke-linejoin="miter" stroke-linecap="butt" />
<path d="M499 65.3L517 57.9" fill="none" stroke="#474c5a" stroke-width="1.2" stroke-linejoin="miter" stroke-linecap="butt" />
<path d="M498.2 65.6L500 64L500.5 65.3Z M517.8 57.6L516 59.2L515.5 57.9Z" fill="#474c5a" stroke="#474c5a" stroke-width="0.5" stroke-linejoin="miter" stroke-linecap="butt" />
<path d="M534.9 58.9H546V67.8H534.9Z M539.1 58.9V54.7H543.9 M540.3 61.6V64.8" fill="none" stroke="#474c5a" stroke-width="1.45" stroke-linejoin="miter" stroke-linecap="butt" />
<path d="M569.9 57H579V67.6L574.5 65.5L569.9 67.6Z M566.6 65.8V54H576.9" fill="none" stroke="#474c5a" stroke-width="1.4" stroke-linejoin="miter" stroke-linecap="butt" />
<path d="M602.3 69H595.6V54.2H614.3V57.8 M600.4 52V55.6M609.2 52V55.6 M599.1 58.8H604.8 M599.1 64.2H602.1" fill="none" stroke="#474c5a" stroke-width="1.4" stroke-linejoin="miter" stroke-linecap="butt" />
<path d="M605.6 69L610.9 63.7" fill="none" stroke="#474c5a" stroke-width="2.6" stroke-linejoin="miter" stroke-linecap="butt" />
<path d="M610.6 68.4C611.6 66.6 612.4 66.2 612.8 67.2C613.2 68.2 613.8 68.2 615 66.6" fill="none" stroke="#474c5a" stroke-width="1.2" stroke-linejoin="miter" stroke-linecap="butt" />
<rect x="633.9" y="55" width="8.2" height="2" fill="#b4b7c0"/>
<path d="M629.1 57.1H646.9 M633.9 57.1V55H642.1V57.1 M632.4 57.1V67.9H643.6V57.1" fill="none" stroke="#474c5a" stroke-width="1.4" stroke-linejoin="miter" stroke-linecap="butt" />
<path d="M636 60.4V64.8M639.6 60.4V64.8" fill="none" stroke="#474c5a" stroke-width="1.5" stroke-linejoin="miter" stroke-linecap="butt" />
<path d="M17.6 114.8L22.5 119.7L27.400000000000002 114.8" fill="none" stroke="#9197a5" stroke-width="1.2" stroke-linejoin="miter" stroke-linecap="butt" />
<path d="M81.70 124.70L75.03 120.85L75.03 113.15L81.70 109.30L88.37 113.15L88.37 120.85Z" fill="none" stroke="#a6abb9" stroke-width="1.1" stroke-linejoin="miter" stroke-linecap="butt" />
<circle cx="81.7" cy="117" r="2.8" fill="none" stroke="#a6abb9" stroke-width="1.1"/>
<path d="M99.8 111.4L111.2 122.8M111.2 111.4L99.8 122.8" fill="none" stroke="#a6abb9" stroke-width="1.2" stroke-linejoin="miter" stroke-linecap="butt" />
<path d="M133.10 146.90L126.43 143.05L126.43 135.35L133.10 131.50L139.77 135.35L139.77 143.05Z" fill="none" stroke="#a6abb9" stroke-width="1.1" stroke-linejoin="miter" stroke-linecap="butt" />
<circle cx="133.1" cy="139.2" r="2.8" fill="none" stroke="#a6abb9" stroke-width="1.1"/>
<path d="M151 133.6L162.4 145.0M162.4 133.6L151 145.0" fill="none" stroke="#a6abb9" stroke-width="1.2" stroke-linejoin="miter" stroke-linecap="butt" />
<path d="M17.6 504.6L22.5 509.5L27.400000000000002 504.6" fill="none" stroke="#9197a5" stroke-width="1.2" stroke-linejoin="miter" stroke-linecap="butt" />
<path d="M156.20 514.10L149.53 510.25L149.53 502.55L156.20 498.70L162.87 502.55L162.87 510.25Z" fill="none" stroke="#a6abb9" stroke-width="1.1" stroke-linejoin="miter" stroke-linecap="butt" />
<circle cx="156.2" cy="506.4" r="2.8" fill="none" stroke="#a6abb9" stroke-width="1.1"/>
<path d="M173.8 500.79999999999995L185.20000000000002 512.1999999999999M185.20000000000002 500.79999999999995L173.8 512.1999999999999" fill="none" stroke="#a6abb9" stroke-width="1.2" stroke-linejoin="miter" stroke-linecap="butt" />
<path d="M17.6 620.6L22.5 625.5L27.400000000000002 620.6" fill="none" stroke="#9197a5" stroke-width="1.2" stroke-linejoin="miter" stroke-linecap="butt" />
<path d="M124.00 630.70L117.33 626.85L117.33 619.15L124.00 615.30L130.67 619.15L130.67 626.85Z" fill="none" stroke="#a6abb9" stroke-width="1.1" stroke-linejoin="miter" stroke-linecap="butt" />
<circle cx="124" cy="623" r="2.8" fill="none" stroke="#a6abb9" stroke-width="1.1"/>
<path d="M141.8 617.4L153.20000000000002 628.8M153.20000000000002 617.4L141.8 628.8" fill="none" stroke="#a6abb9" stroke-width="1.2" stroke-linejoin="miter" stroke-linecap="butt" />
<path d="M17.6 738L22.5 742.9L27.400000000000002 738" fill="none" stroke="#9197a5" stroke-width="1.2" stroke-linejoin="miter" stroke-linecap="butt" />
<path d="M135.50 748.40L128.83 744.55L128.83 736.85L135.50 733.00L142.17 736.85L142.17 744.55Z" fill="none" stroke="#a6abb9" stroke-width="1.1" stroke-linejoin="miter" stroke-linecap="butt" />
<circle cx="135.5" cy="740.7" r="2.8" fill="none" stroke="#a6abb9" stroke-width="1.1"/>
<path d="M153.6 735.1L165.0 746.5M165.0 735.1L153.6 746.5" fill="none" stroke="#a6abb9" stroke-width="1.2" stroke-linejoin="miter" stroke-linecap="butt" /><text x="240" y="61.2" font-family="Liberation Sans,sans-serif" font-size="9.5" fill="#474c5a">1</text><text x="256.3" y="68.6" font-family="Liberation Sans,sans-serif" font-size="9.5" fill="#474c5a">3</text></svg>
<span id="t0" class="t" style="left:36.6px;top:12.0px;font-size:13.5px;line-height:19px;color:#4a4f5e;transform:scaleX(1.1407);-webkit-text-stroke:0.2px currentColor;">指标</span>
<span id="t1" class="t" style="left:102.2px;top:12.0px;font-size:13.5px;line-height:19px;color:#4a4f5e;transform:scaleX(1.1111);-webkit-text-stroke:0.2px currentColor;">设置</span>
<span id="t2" class="t" style="left:164.8px;top:12.0px;font-size:13.5px;line-height:19px;color:#3d82f0;transform:scaleX(1.1000);-webkit-text-stroke:0.2px currentColor;">画线</span>
<span id="t3" class="t" style="left:229.5px;top:12.0px;font-size:13.5px;line-height:19px;color:#4a4f5e;transform:scaleX(1.1111);-webkit-text-stroke:0.2px currentColor;">高级</span>
<span id="t4" class="t" style="left:294.1px;top:12.0px;font-size:13.5px;line-height:19px;color:#4a4f5e;transform:scaleX(1.1370);-webkit-text-stroke:0.2px currentColor;">胜率</span>
<span id="t5" class="t" style="left:356.0px;top:12.0px;font-size:13.5px;line-height:19px;color:#4a4f5e;transform:scaleX(1.1081);-webkit-text-stroke:0.2px currentColor;">自定义周期</span>
<span id="t6" class="t" style="left:457.7px;top:12.0px;font-size:13.5px;line-height:19px;color:#4a4f5e;transform:scaleX(1.1222);-webkit-text-stroke:0.2px currentColor;">分时</span>
<span id="t7" class="t" style="left:506.1px;top:12.0px;font-size:13.5px;line-height:19px;color:#4a4f5e;transform:scaleX(1.1222);-webkit-text-stroke:0.2px currentColor;">分钟</span>
<span id="t8" class="t" style="left:497.9px;top:10.0px;font-size:15px;line-height:21px;color:#4a4f5e;">1</span>
<span id="t9" class="t" style="left:554.2px;top:12.0px;font-size:13.5px;line-height:19px;color:#4a4f5e;transform:scaleX(1.1222);-webkit-text-stroke:0.2px currentColor;">分钟</span>
<span id="t10" class="t" style="left:546.0px;top:10.0px;font-size:15px;line-height:21px;color:#4a4f5e;">3</span>
<span id="t11" class="t" style="left:603.1px;top:12.0px;font-size:13.5px;line-height:19px;color:#4a4f5e;transform:scaleX(1.1222);-webkit-text-stroke:0.2px currentColor;">分钟</span>
<span id="t12" class="t" style="left:594.9px;top:10.0px;font-size:15px;line-height:21px;color:#4a4f5e;">5</span>
<span id="t13" class="t" style="left:660.2px;top:12.0px;font-size:13.5px;line-height:19px;color:#4a4f5e;transform:scaleX(1.1222);-webkit-text-stroke:0.2px currentColor;">分钟</span>
<span id="t14" class="t" style="left:643.6px;top:10.0px;font-size:15px;line-height:21px;color:#4a4f5e;">10</span>
<span id="t15" class="t" style="left:717.0px;top:12.0px;font-size:13.5px;line-height:19px;color:#4a4f5e;transform:scaleX(1.1222);-webkit-text-stroke:0.2px currentColor;">分钟</span>
<span id="t16" class="t" style="left:700.4px;top:10.0px;font-size:15px;line-height:21px;color:#4a4f5e;">15</span>
<span id="t17" class="t" style="left:773.3px;top:12.0px;font-size:13.5px;line-height:19px;color:#4a4f5e;transform:scaleX(1.1222);-webkit-text-stroke:0.2px currentColor;">分钟</span>
<span id="t18" class="t" style="left:756.7px;top:10.0px;font-size:15px;line-height:21px;color:#4a4f5e;">30</span>
<span id="t19" class="t" style="left:821.9px;top:12.0px;font-size:13.5px;line-height:19px;color:#4a4f5e;transform:scaleX(1.1222);-webkit-text-stroke:0.2px currentColor;">小时</span>
<span id="t20" class="t" style="left:813.7px;top:10.0px;font-size:15px;line-height:21px;color:#4a4f5e;">1</span>
<span id="t21" class="t" style="left:870.7px;top:12.0px;font-size:13.5px;line-height:19px;color:#4a4f5e;transform:scaleX(1.1222);-webkit-text-stroke:0.2px currentColor;">小时</span>
<span id="t22" class="t" style="left:862.5px;top:10.0px;font-size:15px;line-height:21px;color:#4a4f5e;">2</span>
<span id="t23" class="t" style="left:918.9px;top:12.0px;font-size:13.5px;line-height:19px;color:#4a4f5e;transform:scaleX(1.1222);-webkit-text-stroke:0.2px currentColor;">小时</span>
<span id="t24" class="t" style="left:910.7px;top:10.0px;font-size:15px;line-height:21px;color:#4a4f5e;">3</span>
<span id="t25" class="t" style="left:967.6px;top:12.0px;font-size:13.5px;line-height:19px;color:#4a4f5e;transform:scaleX(1.1222);-webkit-text-stroke:0.2px currentColor;">小时</span>
<span id="t26" class="t" style="left:959.4px;top:10.0px;font-size:15px;line-height:21px;color:#4a4f5e;">4</span>
<span id="t27" class="t" style="left:1016.4px;top:12.0px;font-size:13.5px;line-height:19px;color:#4a4f5e;transform:scaleX(1.1222);-webkit-text-stroke:0.2px currentColor;">小时</span>
<span id="t28" class="t" style="left:1008.2px;top:10.0px;font-size:15px;line-height:21px;color:#4a4f5e;">6</span>
<span id="t29" class="t" style="left:1072.9px;top:12.0px;font-size:13.5px;line-height:19px;color:#4a4f5e;transform:scaleX(1.1222);-webkit-text-stroke:0.2px currentColor;">小时</span>
<span id="t30" class="t" style="left:1056.3px;top:10.0px;font-size:15px;line-height:21px;color:#4a4f5e;">12</span>
<span id="t31" class="t" style="left:1121.1px;top:12.0px;font-size:13.5px;line-height:19px;color:#3d82f0;transform:scaleX(1.0963);-webkit-text-stroke:0.2px currentColor;">日</span>
<span id="t32" class="t" style="left:1112.9px;top:10.0px;font-size:15px;line-height:21px;color:#3d82f0;">1</span>
<span id="t33" class="t" style="left:1153.9px;top:12.0px;font-size:13.5px;line-height:19px;color:#4a4f5e;transform:scaleX(1.0963);-webkit-text-stroke:0.2px currentColor;">日</span>
<span id="t34" class="t" style="left:1145.7px;top:10.0px;font-size:15px;line-height:21px;color:#4a4f5e;">2</span>
<span id="t35" class="t" style="left:1187.5px;top:12.0px;font-size:13.5px;line-height:19px;color:#4a4f5e;transform:scaleX(1.0963);-webkit-text-stroke:0.2px currentColor;">日</span>
<span id="t36" class="t" style="left:1179.3px;top:10.0px;font-size:15px;line-height:21px;color:#4a4f5e;">3</span>
<span id="t37" class="t" style="left:1221.4px;top:12.0px;font-size:13.5px;line-height:19px;color:#4a4f5e;transform:scaleX(1.0963);-webkit-text-stroke:0.2px currentColor;">日</span>
<span id="t38" class="t" style="left:1213.2px;top:10.0px;font-size:15px;line-height:21px;color:#4a4f5e;">5</span>
<span id="t39" class="t" style="left:1246.7px;top:12.0px;font-size:13.5px;line-height:19px;color:#4a4f5e;transform:scaleX(1.0963);-webkit-text-stroke:0.2px currentColor;">周</span>
<span id="t40" class="t" style="left:1261.7px;top:10.0px;font-size:15px;line-height:21px;color:#4a4f5e;">K</span>
<span id="t41" class="t" style="left:1280.9px;top:12.0px;font-size:13.5px;line-height:19px;color:#4a4f5e;transform:scaleX(1.0963);-webkit-text-stroke:0.2px currentColor;">月</span>
<span id="t42" class="t" style="left:1295.9px;top:10.0px;font-size:15px;line-height:21px;color:#4a4f5e;">K</span>
<span id="t43" class="t" style="left:1315.1px;top:12.0px;font-size:13.5px;line-height:19px;color:#4a4f5e;transform:scaleX(1.0963);-webkit-text-stroke:0.2px currentColor;">季</span>
<span id="t44" class="t" style="left:1330.1px;top:10.0px;font-size:15px;line-height:21px;color:#4a4f5e;">K</span>
<span id="t45" class="t" style="left:1349.3px;top:12.0px;font-size:13.5px;line-height:19px;color:#4a4f5e;transform:scaleX(1.0963);-webkit-text-stroke:0.2px currentColor;">年</span>
<span id="t46" class="t" style="left:1364.3px;top:10.0px;font-size:15px;line-height:21px;color:#4a4f5e;">K</span>
<span id="t47" class="t" style="left:1668.4px;top:11.0px;font-size:15.6px;line-height:22px;color:#4a4f5e;transform:scaleX(0.9888);">0s</span>
<span id="t48" class="t" style="left:1764.3px;top:14.0px;font-size:13.5px;line-height:19px;color:#4a4f5e;transform:scaleX(1.0914);-webkit-text-stroke:0.2px currentColor;">单窗口</span>
<span id="t49" class="t" style="left:330.7px;top:51.0px;font-size:17px;line-height:24px;color:#4a4f5e;transform:scaleX(1.0050);">Aa</span>
<span id="t50" class="t" style="left:5.6px;top:85.0px;font-size:14.5px;line-height:20px;color:#2a2e39;transform:scaleX(0.9809);">时间:</span>
<span id="t51" class="t" style="left:39.2px;top:84.0px;font-size:15.6px;line-height:22px;color:#2a2e39;transform:scaleX(0.9502);">2020-11-04 08:00</span>
<span id="t52" class="t" style="left:162.9px;top:85.0px;font-size:14.5px;line-height:20px;color:#2a2e39;transform:scaleX(1.0253);">开:</span>
<span id="t53" class="t" style="left:182.0px;top:84.0px;font-size:15.6px;line-height:22px;color:#e04a5a;transform:scaleX(0.9562);">14019.99</span>
<span id="t54" class="t" style="left:252.1px;top:85.0px;font-size:14.5px;line-height:20px;color:#2a2e39;transform:scaleX(1.0199);">高:</span>
<span id="t55" class="t" style="left:271.1px;top:84.0px;font-size:15.6px;line-height:22px;color:#e04a5a;transform:scaleX(0.9532);">14039.99</span>
<span id="t56" class="t" style="left:341.2px;top:85.0px;font-size:14.5px;line-height:20px;color:#2a2e39;transform:scaleX(1.0253);">低:</span>
<span id="t57" class="t" style="left:360.5px;top:84.0px;font-size:15.6px;line-height:22px;color:#e04a5a;transform:scaleX(0.9501);">13524.70</span>
<span id="t58" class="t" style="left:430.1px;top:85.0px;font-size:14.5px;line-height:20px;color:#2a2e39;transform:scaleX(1.0253);">收:</span>
<span id="t59" class="t" style="left:449.4px;top:84.0px;font-size:15.6px;line-height:22px;color:#e04a5a;transform:scaleX(0.9485);">13659.89</span>
<span id="t60" class="t" style="left:518.4px;top:85.0px;font-size:14.5px;line-height:20px;color:#2a2e39;transform:scaleX(1.0293);">涨幅:</span>
<span id="t61" class="t" style="left:552.4px;top:84.0px;font-size:15.6px;line-height:22px;color:#e04a5a;transform:scaleX(0.9352);">-2.57%(-360.11)</span>
<span id="t62" class="t" style="left:664.5px;top:85.0px;font-size:14.5px;line-height:20px;color:#2a2e39;transform:scaleX(1.0263);">振幅:</span>
<span id="t63" class="t" style="left:698.2px;top:84.0px;font-size:15.6px;line-height:22px;color:#e04a5a;transform:scaleX(0.9114);">3.68%</span>
<span id="t64" class="t" style="left:40.3px;top:107.0px;font-size:15.6px;line-height:22px;color:#2a2e39;transform:scaleX(0.9747);">MA</span>
<span id="t65" class="t" style="left:121.8px;top:107.0px;font-size:15.6px;line-height:22px;color:#2fd0ae;transform:scaleX(0.9649);">MA(7):13684.36</span>
<span id="t66" class="t" style="left:237.6px;top:107.0px;font-size:15.6px;line-height:22px;color:#ffb31a;transform:scaleX(0.9703);">MA(10):13575.11</span>
<span id="t67" class="t" style="left:361.5px;top:107.0px;font-size:15.6px;line-height:22px;color:#f055cc;transform:scaleX(0.9676);">MA(20):12920.54</span>
<span id="t68" class="t" style="left:485.9px;top:107.0px;font-size:15.6px;line-height:22px;color:#32b4f0;transform:scaleX(0.9635);">MA(30):12339.53</span>
<span id="t69" class="t" style="left:40.4px;top:129.0px;font-size:15.6px;line-height:22px;color:#2a2e39;transform:scaleX(0.9104);">BOLL(20,2)</span>
<span id="t70" class="t" style="left:173.3px;top:129.0px;font-size:15.6px;line-height:22px;color:#3550d6;transform:scaleX(0.9318);">BOLL:12920.54</span>
<span id="t71" class="t" style="left:283.0px;top:129.0px;font-size:15.6px;line-height:22px;color:#f23545;transform:scaleX(0.9347);">UB:14619.90</span>
<span id="t72" class="t" style="left:376.1px;top:129.0px;font-size:15.6px;line-height:22px;color:#d42e42;transform:scaleX(0.9554);">LB:11221.19</span>
<span id="t73" class="t" style="left:40.4px;top:496.0px;font-size:15.6px;line-height:22px;color:#2a2e39;transform:scaleX(0.9250);">MACD(12,26,9)</span>
<span id="t74" class="t" style="left:196.1px;top:496.0px;font-size:15.6px;line-height:22px;color:#2fd0ae;transform:scaleX(0.9293);">DIF:646.44</span>
<span id="t75" class="t" style="left:275.3px;top:496.0px;font-size:15.6px;line-height:22px;color:#ffb31a;transform:scaleX(0.9228);">DEA:625.89</span>
<span id="t76" class="t" style="left:361.0px;top:496.0px;font-size:15.6px;line-height:22px;color:#50b184;transform:scaleX(0.9330);">MACD:41.09</span>
<span id="t77" class="t" style="left:40.3px;top:613.0px;font-size:15.6px;line-height:22px;color:#2a2e39;transform:scaleX(0.9204);">KDJ(9,3,3)</span>
<span id="t78" class="t" style="left:164.3px;top:613.0px;font-size:15.6px;line-height:22px;color:#2fd0ae;transform:scaleX(0.9318);">K:73.63</span>
<span id="t79" class="t" style="left:222.0px;top:613.0px;font-size:15.6px;line-height:22px;color:#ffb31a;transform:scaleX(0.9318);">D:76.33</span>
<span id="t80" class="t" style="left:280.5px;top:613.0px;font-size:15.6px;line-height:22px;color:#f055cc;transform:scaleX(0.9696);">J:68.22</span>
<span id="t81" class="t" style="left:40.3px;top:730.0px;font-size:15.6px;line-height:22px;color:#2a2e39;transform:scaleX(0.9059);">RSI(6,12,24)</span>
<span id="t82" class="t" style="left:175.5px;top:730.0px;font-size:15.6px;line-height:22px;color:#2fd0ae;transform:scaleX(0.9163);">RSI1:57.99</span>
<span id="t83" class="t" style="left:254.6px;top:730.0px;font-size:15.6px;line-height:22px;color:#ffb31a;transform:scaleX(0.9214);">RSI2:65.69</span>
<span id="t84" class="t" style="left:334.4px;top:730.0px;font-size:15.6px;line-height:22px;color:#f055cc;transform:scaleX(0.9060);">RSI3:65.91</span>
<span id="t85" class="t" style="left:13.0px;top:588.0px;font-size:15px;line-height:21px;color:#4a4f5e;transform:scaleX(1.0044);">MA</span>
<span id="t86" class="t" style="left:48.1px;top:588.0px;font-size:15px;line-height:21px;color:#4a4f5e;transform:scaleX(0.9780);">EMA</span>
<span id="t87" class="t" style="left:91.7px;top:588.0px;font-size:15px;line-height:21px;color:#4a4f5e;transform:scaleX(0.9391);">VOLUME</span>
<span id="t88" class="t" style="left:163.5px;top:588.0px;font-size:15px;line-height:21px;color:#3d82f0;transform:scaleX(0.9622);">MACD</span>
<span id="t89" class="t" style="left:218.3px;top:588.0px;font-size:15px;line-height:21px;color:#4a4f5e;transform:scaleX(0.9745);">DMI</span>
<span id="t90" class="t" style="left:258.3px;top:588.0px;font-size:15px;line-height:21px;color:#4a4f5e;transform:scaleX(0.9687);">DMA</span>
<span id="t91" class="t" style="left:303.5px;top:588.0px;font-size:15px;line-height:21px;color:#4a4f5e;transform:scaleX(0.9189);">TRIX</span>
<span id="t92" class="t" style="left:348.3px;top:588.0px;font-size:15px;line-height:21px;color:#4a4f5e;transform:scaleX(0.8852);">BRAR</span>
<span id="t93" class="t" style="left:398.1px;top:588.0px;font-size:15px;line-height:21px;color:#4a4f5e;transform:scaleX(0.8828);">VR</span>
<span id="t94" class="t" style="left:429.2px;top:588.0px;font-size:15px;line-height:21px;color:#4a4f5e;transform:scaleX(0.9120);">OBV</span>
<span id="t95" class="t" style="left:470.9px;top:588.0px;font-size:15px;line-height:21px;color:#4a4f5e;transform:scaleX(0.9442);">EMV</span>
<span id="t96" class="t" style="left:514.0px;top:588.0px;font-size:15px;line-height:21px;color:#4a4f5e;transform:scaleX(0.8954);">RSI</span>
<span id="t97" class="t" style="left:548.8px;top:588.0px;font-size:15px;line-height:21px;color:#4a4f5e;transform:scaleX(0.8960);">WR</span>
<span id="t98" class="t" style="left:584.1px;top:588.0px;font-size:15px;line-height:21px;color:#4a4f5e;transform:scaleX(0.8981);">SAR</span>
<span id="t99" class="t" style="left:624.7px;top:588.0px;font-size:15px;line-height:21px;color:#4a4f5e;transform:scaleX(0.9491);">KDJ</span>
<span id="t100" class="t" style="left:664.5px;top:588.0px;font-size:15px;line-height:21px;color:#4a4f5e;transform:scaleX(0.8727);">ROC</span>
<span id="t101" class="t" style="left:706.5px;top:588.0px;font-size:15px;line-height:21px;color:#4a4f5e;transform:scaleX(1.0071);">MTM</span>
<span id="t102" class="t" style="left:754.3px;top:588.0px;font-size:15px;line-height:21px;color:#4a4f5e;transform:scaleX(0.9098);">BOLL</span>
<span id="t103" class="t" style="left:802.0px;top:588.0px;font-size:15px;line-height:21px;color:#4a4f5e;transform:scaleX(0.8995);">PSY</span>
<span id="t104" class="t" style="left:841.8px;top:588.0px;font-size:15px;line-height:21px;color:#4a4f5e;transform:scaleX(0.9467);">StochRSI</span>
<span id="t105" class="t" style="left:914.7px;top:588.0px;font-size:15px;line-height:21px;color:#4a4f5e;transform:scaleX(0.9823);">SMI</span>
<span id="t106" class="t" style="left:953.3px;top:588.0px;font-size:15px;line-height:21px;color:#4a4f5e;transform:scaleX(0.9170);">CCI</span>
<span id="t107" class="t" style="left:989.8px;top:588.0px;font-size:15px;line-height:21px;color:#4a4f5e;transform:scaleX(0.9563);">MFI</span>
<span id="t108" class="t" style="left:1027.4px;top:588.0px;font-size:15px;line-height:21px;color:#4a4f5e;transform:scaleX(0.9484);">ATR</span>
<span id="t109" class="t" style="left:1067.2px;top:588.0px;font-size:15px;line-height:21px;color:#4a4f5e;transform:scaleX(0.9277);">BBW</span>
<span id="t110" class="t" style="left:1111.8px;top:588.0px;font-size:15px;line-height:21px;color:#4a4f5e;transform:scaleX(0.9337);">SKDJ</span>
<span id="t111" class="t" style="left:1160.7px;top:588.0px;font-size:15px;line-height:21px;color:#4a4f5e;transform:scaleX(0.9448);">BIAS</span>
<span id="t112" class="t" style="left:1205.1px;top:588.0px;font-size:15px;line-height:21px;color:#4a4f5e;transform:scaleX(0.9257);">DPO</span>
<span id="t113" class="t" style="left:1247.7px;top:588.0px;font-size:15px;line-height:21px;color:#4a4f5e;transform:scaleX(0.9176);">AO</span>
<span id="t114" class="t" style="left:1280.1px;top:588.0px;font-size:15px;line-height:21px;color:#4a4f5e;transform:scaleX(1.0304);">Position</span>
<span id="t115" class="t" style="left:1347.3px;top:588.0px;font-size:15px;line-height:21px;color:#4a4f5e;transform:scaleX(1.0103);">Fundflow</span>
<span id="t116" class="t" style="left:1421.3px;top:588.0px;font-size:15px;line-height:21px;color:#4a4f5e;transform:scaleX(0.9499);">AI-NetVOL</span>
<span id="t117" class="t" style="left:1503.0px;top:588.0px;font-size:15px;line-height:21px;color:#4a4f5e;transform:scaleX(0.8971);">LSUR</span>
<span id="t118" class="t" style="left:1551.7px;top:588.0px;font-size:15px;line-height:21px;color:#4a4f5e;transform:scaleX(0.9211);">BASIS</span>
<span id="t119" class="t" style="left:1604.6px;top:588.0px;font-size:15px;line-height:21px;color:#4a4f5e;transform:scaleX(1.0219);">TVolume</span>
<span id="t120" class="t" style="left:1677.3px;top:588.0px;font-size:15px;line-height:21px;color:#4a4f5e;transform:scaleX(0.9337);">FTBS</span>
<span id="t121" class="t" style="left:13.0px;top:705.0px;font-size:15px;line-height:21px;color:#4a4f5e;transform:scaleX(1.0044);">MA</span>
<span id="t122" class="t" style="left:48.1px;top:705.0px;font-size:15px;line-height:21px;color:#4a4f5e;transform:scaleX(0.9780);">EMA</span>
<span id="t123" class="t" style="left:91.7px;top:705.0px;font-size:15px;line-height:21px;color:#4a4f5e;transform:scaleX(0.9391);">VOLUME</span>
<span id="t124" class="t" style="left:163.5px;top:705.0px;font-size:15px;line-height:21px;color:#a3a8b8;transform:scaleX(0.9622);">MACD</span>
<span id="t125" class="t" style="left:218.3px;top:705.0px;font-size:15px;line-height:21px;color:#4a4f5e;transform:scaleX(0.9745);">DMI</span>
<span id="t126" class="t" style="left:258.3px;top:705.0px;font-size:15px;line-height:21px;color:#4a4f5e;transform:scaleX(0.9687);">DMA</span>
<span id="t127" class="t" style="left:303.5px;top:705.0px;font-size:15px;line-height:21px;color:#4a4f5e;transform:scaleX(0.9189);">TRIX</span>
<span id="t128" class="t" style="left:348.3px;top:705.0px;font-size:15px;line-height:21px;color:#4a4f5e;transform:scaleX(0.8852);">BRAR</span>
<span id="t129" class="t" style="left:398.1px;top:705.0px;font-size:15px;line-height:21px;color:#4a4f5e;transform:scaleX(0.8828);">VR</span>
<span id="t130" class="t" style="left:429.2px;top:705.0px;font-size:15px;line-height:21px;color:#4a4f5e;transform:scaleX(0.9120);">OBV</span>
<span id="t131" class="t" style="left:470.9px;top:705.0px;font-size:15px;line-height:21px;color:#4a4f5e;transform:scaleX(0.9442);">EMV</span>
<span id="t132" class="t" style="left:514.0px;top:705.0px;font-size:15px;line-height:21px;color:#a3a8b8;transform:scaleX(0.8954);">RSI</span>
<span id="t133" class="t" style="left:548.8px;top:705.0px;font-size:15px;line-height:21px;color:#4a4f5e;transform:scaleX(0.8960);">WR</span>
<span id="t134" class="t" style="left:584.1px;top:705.0px;font-size:15px;line-height:21px;color:#4a4f5e;transform:scaleX(0.8981);">SAR</span>
<span id="t135" class="t" style="left:624.7px;top:705.0px;font-size:15px;line-height:21px;color:#3d82f0;transform:scaleX(0.9491);">KDJ</span>
<span id="t136" class="t" style="left:664.5px;top:705.0px;font-size:15px;line-height:21px;color:#4a4f5e;transform:scaleX(0.8727);">ROC</span>
<span id="t137" class="t" style="left:706.5px;top:705.0px;font-size:15px;line-height:21px;color:#4a4f5e;transform:scaleX(1.0071);">MTM</span>
<span id="t138" class="t" style="left:754.3px;top:705.0px;font-size:15px;line-height:21px;color:#4a4f5e;transform:scaleX(0.9098);">BOLL</span>
<span id="t139" class="t" style="left:802.0px;top:705.0px;font-size:15px;line-height:21px;color:#4a4f5e;transform:scaleX(0.8995);">PSY</span>
<span id="t140" class="t" style="left:841.8px;top:705.0px;font-size:15px;line-height:21px;color:#4a4f5e;transform:scaleX(0.9467);">StochRSI</span>
<span id="t141" class="t" style="left:914.7px;top:705.0px;font-size:15px;line-height:21px;color:#4a4f5e;transform:scaleX(0.9823);">SMI</span>
<span id="t142" class="t" style="left:953.3px;top:705.0px;font-size:15px;line-height:21px;color:#4a4f5e;transform:scaleX(0.9170);">CCI</span>
<span id="t143" class="t" style="left:989.8px;top:705.0px;font-size:15px;line-height:21px;color:#4a4f5e;transform:scaleX(0.9563);">MFI</span>
<span id="t144" class="t" style="left:1027.4px;top:705.0px;font-size:15px;line-height:21px;color:#4a4f5e;transform:scaleX(0.9484);">ATR</span>
<span id="t145" class="t" style="left:1067.2px;top:705.0px;font-size:15px;line-height:21px;color:#4a4f5e;transform:scaleX(0.9277);">BBW</span>
<span id="t146" class="t" style="left:1111.8px;top:705.0px;font-size:15px;line-height:21px;color:#4a4f5e;transform:scaleX(0.9337);">SKDJ</span>
<span id="t147" class="t" style="left:1160.7px;top:705.0px;font-size:15px;line-height:21px;color:#4a4f5e;transform:scaleX(0.9448);">BIAS</span>
<span id="t148" class="t" style="left:1205.1px;top:705.0px;font-size:15px;line-height:21px;color:#4a4f5e;transform:scaleX(0.9257);">DPO</span>
<span id="t149" class="t" style="left:1247.7px;top:705.0px;font-size:15px;line-height:21px;color:#4a4f5e;transform:scaleX(0.9176);">AO</span>
<span id="t150" class="t" style="left:1280.1px;top:705.0px;font-size:15px;line-height:21px;color:#4a4f5e;transform:scaleX(1.0304);">Position</span>
<span id="t151" class="t" style="left:1347.3px;top:705.0px;font-size:15px;line-height:21px;color:#4a4f5e;transform:scaleX(1.0103);">Fundflow</span>
<span id="t152" class="t" style="left:1421.3px;top:705.0px;font-size:15px;line-height:21px;color:#4a4f5e;transform:scaleX(0.9499);">AI-NetVOL</span>
<span id="t153" class="t" style="left:1503.0px;top:705.0px;font-size:15px;line-height:21px;color:#4a4f5e;transform:scaleX(0.8971);">LSUR</span>
<span id="t154" class="t" style="left:1551.7px;top:705.0px;font-size:15px;line-height:21px;color:#4a4f5e;transform:scaleX(0.9211);">BASIS</span>
<span id="t155" class="t" style="left:1604.6px;top:705.0px;font-size:15px;line-height:21px;color:#4a4f5e;transform:scaleX(1.0219);">TVolume</span>
<span id="t156" class="t" style="left:1677.3px;top:705.0px;font-size:15px;line-height:21px;color:#4a4f5e;transform:scaleX(0.9337);">FTBS</span>
<span id="t157" class="t" style="left:13.0px;top:823.0px;font-size:15px;line-height:21px;color:#4a4f5e;transform:scaleX(1.0044);">MA</span>
<span id="t158" class="t" style="left:48.1px;top:823.0px;font-size:15px;line-height:21px;color:#4a4f5e;transform:scaleX(0.9780);">EMA</span>
<span id="t159" class="t" style="left:91.7px;top:823.0px;font-size:15px;line-height:21px;color:#4a4f5e;transform:scaleX(0.9391);">VOLUME</span>
<span id="t160" class="t" style="left:163.5px;top:823.0px;font-size:15px;line-height:21px;color:#a3a8b8;transform:scaleX(0.9622);">MACD</span>
<span id="t161" class="t" style="left:218.3px;top:823.0px;font-size:15px;line-height:21px;color:#4a4f5e;transform:scaleX(0.9745);">DMI</span>
<span id="t162" class="t" style="left:258.3px;top:823.0px;font-size:15px;line-height:21px;color:#4a4f5e;transform:scaleX(0.9687);">DMA</span>
<span id="t163" class="t" style="left:303.5px;top:823.0px;font-size:15px;line-height:21px;color:#4a4f5e;transform:scaleX(0.9189);">TRIX</span>
<span id="t164" class="t" style="left:348.3px;top:823.0px;font-size:15px;line-height:21px;color:#4a4f5e;transform:scaleX(0.8852);">BRAR</span>
<span id="t165" class="t" style="left:398.1px;top:823.0px;font-size:15px;line-height:21px;color:#4a4f5e;transform:scaleX(0.8828);">VR</span>
<span id="t166" class="t" style="left:429.2px;top:823.0px;font-size:15px;line-height:21px;color:#4a4f5e;transform:scaleX(0.9120);">OBV</span>
<span id="t167" class="t" style="left:470.9px;top:823.0px;font-size:15px;line-height:21px;color:#4a4f5e;transform:scaleX(0.9442);">EMV</span>
<span id="t168" class="t" style="left:514.0px;top:823.0px;font-size:15px;line-height:21px;color:#3d82f0;transform:scaleX(0.8954);">RSI</span>
<span id="t169" class="t" style="left:548.8px;top:823.0px;font-size:15px;line-height:21px;color:#4a4f5e;transform:scaleX(0.8960);">WR</span>
<span id="t170" class="t" style="left:584.1px;top:823.0px;font-size:15px;line-height:21px;color:#4a4f5e;transform:scaleX(0.8981);">SAR</span>
<span id="t171" class="t" style="left:624.7px;top:823.0px;font-size:15px;line-height:21px;color:#a3a8b8;transform:scaleX(0.9491);">KDJ</span>
<span id="t172" class="t" style="left:664.5px;top:823.0px;font-size:15px;line-height:21px;color:#4a4f5e;transform:scaleX(0.8727);">ROC</span>
<span id="t173" class="t" style="left:706.5px;top:823.0px;font-size:15px;line-height:21px;color:#4a4f5e;transform:scaleX(1.0071);">MTM</span>
<span id="t174" class="t" style="left:754.3px;top:823.0px;font-size:15px;line-height:21px;color:#4a4f5e;transform:scaleX(0.9098);">BOLL</span>
<span id="t175" class="t" style="left:802.0px;top:823.0px;font-size:15px;line-height:21px;color:#4a4f5e;transform:scaleX(0.8995);">PSY</span>
<span id="t176" class="t" style="left:841.8px;top:823.0px;font-size:15px;line-height:21px;color:#4a4f5e;transform:scaleX(0.9467);">StochRSI</span>
<span id="t177" class="t" style="left:914.7px;top:823.0px;font-size:15px;line-height:21px;color:#4a4f5e;transform:scaleX(0.9823);">SMI</span>
<span id="t178" class="t" style="left:953.3px;top:823.0px;font-size:15px;line-height:21px;color:#4a4f5e;transform:scaleX(0.9170);">CCI</span>
<span id="t179" class="t" style="left:989.8px;top:823.0px;font-size:15px;line-height:21px;color:#4a4f5e;transform:scaleX(0.9563);">MFI</span>
<span id="t180" class="t" style="left:1027.4px;top:823.0px;font-size:15px;line-height:21px;color:#4a4f5e;transform:scaleX(0.9484);">ATR</span>
<span id="t181" class="t" style="left:1067.2px;top:823.0px;font-size:15px;line-height:21px;color:#4a4f5e;transform:scaleX(0.9277);">BBW</span>
<span id="t182" class="t" style="left:1111.8px;top:823.0px;font-size:15px;line-height:21px;color:#4a4f5e;transform:scaleX(0.9337);">SKDJ</span>
<span id="t183" class="t" style="left:1160.7px;top:823.0px;font-size:15px;line-height:21px;color:#4a4f5e;transform:scaleX(0.9448);">BIAS</span>
<span id="t184" class="t" style="left:1205.1px;top:823.0px;font-size:15px;line-height:21px;color:#4a4f5e;transform:scaleX(0.9257);">DPO</span>
<span id="t185" class="t" style="left:1247.7px;top:823.0px;font-size:15px;line-height:21px;color:#4a4f5e;transform:scaleX(0.9176);">AO</span>
<span id="t186" class="t" style="left:1280.1px;top:823.0px;font-size:15px;line-height:21px;color:#4a4f5e;transform:scaleX(1.0304);">Position</span>
<span id="t187" class="t" style="left:1347.3px;top:823.0px;font-size:15px;line-height:21px;color:#4a4f5e;transform:scaleX(1.0103);">Fundflow</span>
<span id="t188" class="t" style="left:1421.3px;top:823.0px;font-size:15px;line-height:21px;color:#4a4f5e;transform:scaleX(0.9499);">AI-NetVOL</span>
<span id="t189" class="t" style="left:1503.0px;top:823.0px;font-size:15px;line-height:21px;color:#4a4f5e;transform:scaleX(0.8971);">LSUR</span>
<span id="t190" class="t" style="left:1551.7px;top:823.0px;font-size:15px;line-height:21px;color:#4a4f5e;transform:scaleX(0.9211);">BASIS</span>
<span id="t191" class="t" style="left:1604.6px;top:823.0px;font-size:15px;line-height:21px;color:#4a4f5e;transform:scaleX(1.0219);">TVolume</span>
<span id="t192" class="t" style="left:1677.3px;top:823.0px;font-size:15px;line-height:21px;color:#4a4f5e;transform:scaleX(0.9337);">FTBS</span>
<span id="t193" class="t" style="left:1774.1px;top:134.0px;font-size:14px;line-height:20px;color:#4a4f5e;transform:scaleX(0.9862);">14208.35</span>
<span id="t194" class="t" style="left:1774.1px;top:197.0px;font-size:14px;line-height:20px;color:#4a4f5e;transform:scaleX(0.9862);">13315.58</span>
<span id="t195" class="t" style="left:1774.1px;top:259.0px;font-size:14px;line-height:20px;color:#4a4f5e;transform:scaleX(0.9862);">12478.90</span>
<span id="t196" class="t" style="left:1774.1px;top:322.0px;font-size:14px;line-height:20px;color:#4a4f5e;transform:scaleX(1.0042);">11694.80</span>
<span id="t197" class="t" style="left:1774.1px;top:384.0px;font-size:14px;line-height:20px;color:#4a4f5e;transform:scaleX(0.9862);">10959.96</span>
<span id="t198" class="t" style="left:1774.1px;top:447.0px;font-size:14px;line-height:20px;color:#4a4f5e;transform:scaleX(0.9862);">10271.30</span>
<span id="t199" class="t" style="left:1782.2px;top:525.0px;font-size:14px;line-height:20px;color:#4a4f5e;transform:scaleX(0.9690);">500.00</span>
<span id="t200" class="t" style="left:1789.3px;top:566.0px;font-size:14px;line-height:20px;color:#4a4f5e;transform:scaleX(0.9982);">0.00</span>
<span id="t201" class="t" style="left:1782.2px;top:625.0px;font-size:14px;line-height:20px;color:#4a4f5e;transform:scaleX(0.9690);">100.00</span>
<span id="t202" class="t" style="left:1785.8px;top:686.0px;font-size:14px;line-height:20px;color:#4a4f5e;transform:scaleX(0.9730);">50.00</span>
<span id="t203" class="t" style="left:1782.2px;top:736.0px;font-size:14px;line-height:20px;color:#4a4f5e;transform:scaleX(0.9690);">100.00</span>
<span id="t204" class="t" style="left:1785.8px;top:766.0px;font-size:14px;line-height:20px;color:#4a4f5e;transform:scaleX(0.9730);">70.00</span>
<span id="t205" class="t" style="left:1785.8px;top:784.0px;font-size:14px;line-height:20px;color:#4a4f5e;transform:scaleX(0.9730);">50.00</span>
<span id="t206" class="t" style="left:1785.8px;top:804.0px;font-size:14px;line-height:20px;color:#4a4f5e;transform:scaleX(0.9730);">30.00</span>
<span id="t207" class="t" style="left:1774.1px;top:172.0px;font-size:14px;line-height:20px;color:#ffffff;transform:scaleX(0.9862);">13659.89</span>
<span id="t208" class="t" style="left:132.5px;top:849.0px;font-size:14px;line-height:20px;color:#4a4f5e;transform:scaleX(0.9792);">10月 11</span>
<span id="t209" class="t" style="left:237.5px;top:849.0px;font-size:14px;line-height:20px;color:#4a4f5e;transform:scaleX(0.9583);">10月 13</span>
<span id="t210" class="t" style="left:342.5px;top:849.0px;font-size:14px;line-height:20px;color:#4a4f5e;transform:scaleX(0.9583);">10月 15</span>
<span id="t211" class="t" style="left:447.5px;top:849.0px;font-size:14px;line-height:20px;color:#4a4f5e;transform:scaleX(0.9583);">10月 17</span>
<span id="t212" class="t" style="left:552.5px;top:849.0px;font-size:14px;line-height:20px;color:#4a4f5e;transform:scaleX(0.9583);">10月 19</span>
<span id="t213" class="t" style="left:657.5px;top:849.0px;font-size:14px;line-height:20px;color:#4a4f5e;transform:scaleX(0.9583);">10月 21</span>
<span id="t214" class="t" style="left:762.5px;top:849.0px;font-size:14px;line-height:20px;color:#4a4f5e;transform:scaleX(0.9583);">10月 23</span>
<span id="t215" class="t" style="left:867.5px;top:849.0px;font-size:14px;line-height:20px;color:#4a4f5e;transform:scaleX(0.9583);">10月 25</span>
<span id="t216" class="t" style="left:972.5px;top:849.0px;font-size:14px;line-height:20px;color:#4a4f5e;transform:scaleX(0.9583);">10月 27</span>
<span id="t217" class="t" style="left:1077.5px;top:849.0px;font-size:14px;line-height:20px;color:#4a4f5e;transform:scaleX(0.9583);">10月 29</span>
<span id="t218" class="t" style="left:1182.5px;top:849.0px;font-size:14px;line-height:20px;color:#4a4f5e;transform:scaleX(0.9583);">10月 31</span>
<span id="t219" class="t" style="left:1291.3px;top:849.0px;font-size:14px;line-height:20px;color:#4a4f5e;transform:scaleX(0.9796);">11月 2</span>
<span id="t220" class="t" style="left:1396.3px;top:849.0px;font-size:14px;line-height:20px;color:#4a4f5e;transform:scaleX(0.9796);">11月 4</span>
<span id="t221" class="t" style="left:1501.3px;top:849.0px;font-size:14px;line-height:20px;color:#4a4f5e;transform:scaleX(0.9796);">11月 6</span>
<span id="t222" class="t" style="left:1606.3px;top:849.0px;font-size:14px;line-height:20px;color:#4a4f5e;transform:scaleX(0.9796);">11月 8</span>
<span id="t223" class="t" style="left:1707.6px;top:849.0px;font-size:14px;line-height:20px;color:#4a4f5e;transform:scaleX(0.9792);">11月 10</span>
<span id="t224" class="t" style="left:1744.9px;top:851.0px;font-size:13.5px;line-height:19px;color:#3d82f0;transform:scaleX(1.1519);z-index:3;background:#fff;-webkit-text-stroke:0.2px currentColor;">对数</span>
<span id="t225" class="t" style="left:1787.9px;top:849.0px;font-size:15px;line-height:21px;color:#4a4f5e;transform:scaleX(0.7869);">%</span>
<span id="t226" class="t" style="left:1812.0px;top:851.0px;font-size:13.5px;line-height:19px;color:#3d82f0;transform:scaleX(1.0889);-webkit-text-stroke:0.2px currentColor;">自动</span>
<span id="t227" class="t" style="left:18.0px;top:421.0px;font-size:14px;line-height:20px;color:#1f232e;transform:scaleX(0.9811);">10531.48</span>
<span id="t228" class="t" style="left:1130.4px;top:141.0px;font-size:14px;line-height:20px;color:#1f232e;transform:scaleX(0.9674);">14099.94</span>
</body></html>
